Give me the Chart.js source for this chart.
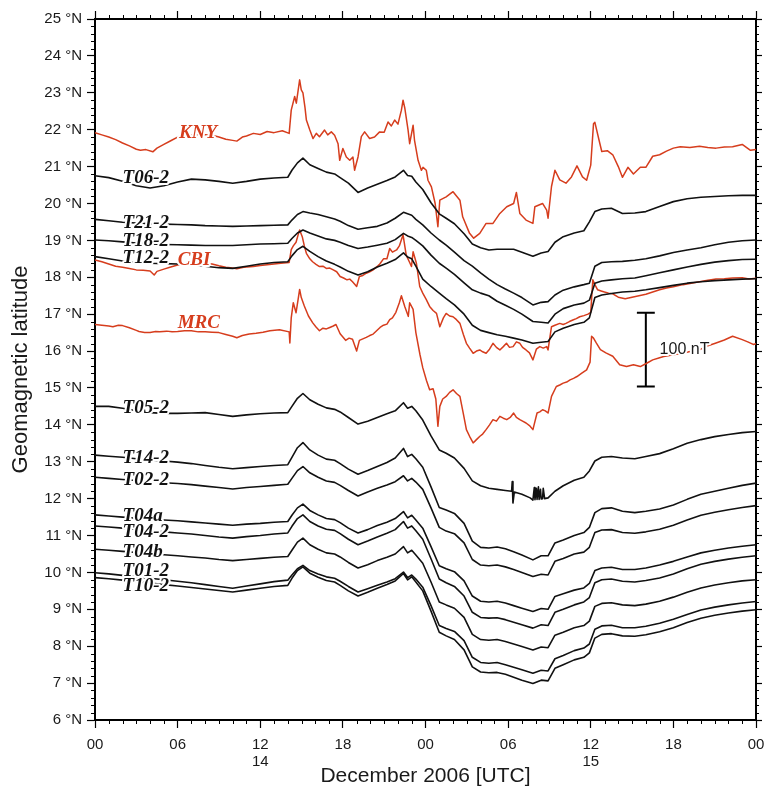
<!DOCTYPE html>
<html>
<head>
<meta charset="utf-8">
<title>Geomagnetic latitude stack, December 2006</title>
<script src="https://cdn.jsdelivr.net/npm/chart.js@4.4.1/dist/chart.umd.min.js"></script>
<style>
  html, body { margin: 0; padding: 0; background: #fff; }
  #wrap { width: 779px; height: 791px; }
</style>
</head>
<body>
<div id="wrap"><canvas id="geoChart" width="779" height="791"></canvas></div>
<script>
// hours counted from 00 UTC on 14 December 2006
const hours = [0, 1, 2, 3, 4, 5, 6, 7, 8, 9, 10, 11, 12, 13, 14,
  14.3, 14.7, 15.1, 15.6, 16.2, 16.8, 17.4, 17.8, 18.4, 19.1,
  19.8, 20.5, 21.2, 21.8, 22.4, 22.7, 23, 23.3, 23.8, 24.4,
  25, 25.5, 26.1, 26.8, 27.4, 28, 28.6, 29.2, 29.8, 30.4,
  31, 31.8, 32.4, 32.9, 33.4, 34, 34.8, 35.5, 35.9, 36.3,
  36.8, 37.5, 38.3, 39.2, 40,
  41, 42, 43, 44, 45, 46, 47, 48];

// stacked traces, plotted at the station latitude (deg N)
const t06 = [20.75, 20.7, 20.6, 20.48, 20.42, 20.48, 20.58, 20.66, 20.64, 20.6, 20.55, 20.6, 20.66, 20.69, 20.71,
  20.9, 21.1, 21.23, 21.05, 20.95, 20.85, 20.8, 20.7, 20.55, 20.3,
  20.42, 20.52, 20.62, 20.72, 20.9, 20.76, 20.74, 20.58, 20.38, 20.02,
  19.72, 19.6, 19.45, 19.18, 18.9, 18.8, 18.74, 18.76, 18.76, 18.76,
  18.68, 18.57, 18.66, 18.7, 18.95, 19.1, 19.2, 19.26, 19.5, 19.78,
  19.85, 19.87, 19.73, 19.74, 19.78,
  19.92, 20.05, 20.13, 20.17, 20.19, 20.21, 20.22, 20.22];

const t21 = [19.57, 19.53, 19.49, 19.47, 19.45, 19.44, 19.43, 19.42, 19.4, 19.39, 19.38, 19.39, 19.4, 19.41, 19.42,
  19.55, 19.7, 19.78, 19.74, 19.7, 19.64, 19.58, 19.52, 19.4, 19.3,
  19.34, 19.38, 19.47, 19.6, 19.76, 19.72, 19.68, 19.57, 19.42, 19.2,
  19.01, 18.87, 18.68, 18.45, 18.3, 18.12, 17.95, 17.8, 17.68, 17.57,
  17.45, 17.25, 17.32, 17.34, 17.52, 17.65, 17.74, 17.8, 17.84, 18.3,
  18.4, 18.42, 18.43, 18.46, 18.5,
  18.58, 18.67, 18.74, 18.8, 18.88, 18.95, 18.99, 19.01];

const t18 = [19.01, 18.99, 18.96, 18.93, 18.9, 18.89, 18.88, 18.87, 18.86, 18.86, 18.86, 18.88, 18.9, 18.91, 18.92,
  19.05, 19.2, 19.28, 19.2, 19.12, 19.04, 19.0, 18.95, 18.86, 18.78,
  18.82, 18.87, 18.92, 19.02, 19.19, 19.12, 19.08, 19.0, 18.85, 18.6,
  18.38, 18.25, 18.08, 17.85, 17.66, 17.57, 17.5, 17.35, 17.24, 17.13,
  17.0, 16.8, 16.78, 16.76, 17.0, 17.15, 17.25, 17.3, 17.38, 17.84,
  17.9, 17.93, 17.96, 17.98, 18.04,
  18.12, 18.2, 18.28, 18.35, 18.41, 18.45, 18.48, 18.49];

const t12 = [18.56, 18.5, 18.44, 18.4, 18.38, 18.37, 18.36, 18.34, 18.3, 18.26, 18.24, 18.3, 18.36, 18.4, 18.42,
  18.58, 18.75, 18.84, 18.7, 18.56, 18.44, 18.35, 18.28, 18.16, 18.06,
  18.15, 18.28, 18.38, 18.48, 18.66, 18.55, 18.5, 18.3, 17.95, 17.75,
  17.57, 17.42, 17.25, 17.0, 16.7, 16.56, 16.5, 16.44, 16.4, 16.35,
  16.3, 16.21, 16.24, 16.26, 16.52, 16.62, 16.72, 16.78, 16.9, 17.45,
  17.52, 17.56, 17.6, 17.62, 17.66,
  17.72, 17.78, 17.84, 17.88, 17.91, 17.93, 17.95, 17.96];

const t14 = [13.18, 13.15, 13.12, 13.08, 13.05, 13.02, 12.99, 12.95, 12.9, 12.85, 12.81, 12.84, 12.87, 12.9, 12.92,
  13.12, 13.38, 13.52, 13.32, 13.18, 13.07, 13.04, 12.95, 12.8, 12.66,
  12.76, 12.87, 12.98, 13.1, 13.36, 13.14, 13.2, 13.08, 12.85, 12.32,
  11.76, 11.69, 11.6, 11.33, 10.85, 10.68, 10.66, 10.69, 10.64, 10.56,
  10.47, 10.34, 10.45, 10.45, 10.8, 10.88, 11.0, 11.08, 11.22, 11.62,
  11.73, 11.75, 11.66, 11.62, 11.66,
  11.72, 11.83, 11.98, 12.12, 12.2, 12.28, 12.36, 12.42];

const t02 = [12.58, 12.55, 12.52, 12.49, 12.46, 12.43, 12.41, 12.38, 12.34, 12.3, 12.26, 12.3, 12.33, 12.36, 12.39,
  12.55, 12.76, 12.87, 12.7, 12.58, 12.48, 12.44, 12.36, 12.22, 12.07,
  12.18, 12.28, 12.37, 12.46, 12.62, 12.48, 12.55, 12.45, 12.25, 11.75,
  11.22, 11.12, 11.05, 10.8, 10.35, 10.2, 10.18, 10.2, 10.15, 10.08,
  10.0, 9.89, 9.95, 9.93, 10.3, 10.38, 10.5, 10.55, 10.68, 11.08,
  11.15, 11.16, 11.08, 11.06, 11.1,
  11.17, 11.28, 11.42, 11.55, 11.63, 11.7, 11.76, 11.81];

const t04a = [11.56, 11.53, 11.5, 11.47, 11.44, 11.42, 11.4, 11.37, 11.34, 11.31, 11.28, 11.31, 11.33, 11.36, 11.38,
  11.55, 11.75, 11.85, 11.68, 11.56, 11.46, 11.43, 11.35, 11.2, 11.07,
  11.16, 11.27, 11.36, 11.46, 11.65, 11.48, 11.55, 11.42, 11.2, 10.7,
  10.18, 10.1, 10.02, 9.77, 9.36, 9.22, 9.2, 9.22, 9.17, 9.1,
  9.03, 8.94, 9.02, 9.0, 9.35, 9.42, 9.52, 9.58, 9.7, 10.05,
  10.12, 10.14, 10.08, 10.08, 10.12,
  10.2, 10.3, 10.42, 10.53, 10.6, 10.66, 10.71, 10.75];

const t04 = [11.26, 11.23, 11.2, 11.17, 11.13, 11.1, 11.07, 11.04, 11.0, 10.96, 10.93, 10.97, 11.0, 11.04, 11.07,
  11.25, 11.46, 11.56, 11.38, 11.26, 11.17, 11.14, 11.05, 10.9, 10.75,
  10.85, 10.96, 11.06, 11.16, 11.38, 11.2, 11.26, 11.13, 10.9, 10.37,
  9.82, 9.72, 9.62, 9.36, 8.92, 8.78, 8.76, 8.77, 8.72, 8.65,
  8.58, 8.49, 8.58, 8.56, 8.92, 9.0, 9.12, 9.2, 9.32, 9.72,
  9.8, 9.82, 9.76, 9.74, 9.78,
  9.85, 9.96, 10.1, 10.22, 10.3, 10.36, 10.41, 10.45];

const t04b = [10.63, 10.6, 10.57, 10.54, 10.51, 10.48, 10.45, 10.42, 10.39, 10.35, 10.32, 10.35, 10.38, 10.41, 10.43,
  10.6, 10.82, 10.93, 10.75, 10.63, 10.53, 10.5, 10.42, 10.27, 10.12,
  10.21, 10.32, 10.41, 10.5, 10.7, 10.53, 10.6, 10.47, 10.25, 9.74,
  9.2, 9.12, 9.03, 8.78, 8.32, 8.18, 8.16, 8.18, 8.13, 8.06,
  7.99, 7.9, 7.98, 7.96, 8.3, 8.38, 8.5, 8.56, 8.68, 9.08,
  9.16, 9.18, 9.12, 9.1, 9.14,
  9.22, 9.33, 9.46, 9.58, 9.66, 9.72, 9.77, 9.8];

const t01 = [9.99, 9.96, 9.92, 9.88, 9.84, 9.8, 9.76, 9.72, 9.67, 9.62, 9.57, 9.63, 9.69, 9.75, 9.79,
  9.93, 10.1, 10.19, 10.05, 9.96, 9.88, 9.84, 9.76, 9.62, 9.47,
  9.56, 9.65, 9.74, 9.83, 10.01, 9.86, 9.93, 9.82, 9.6, 9.1,
  8.56, 8.48, 8.4, 8.15, 7.7, 7.56, 7.54, 7.56, 7.5, 7.43,
  7.36, 7.27, 7.35, 7.33, 7.66, 7.75, 7.88, 7.95, 8.06, 8.46,
  8.55, 8.57, 8.5, 8.5, 8.54,
  8.62, 8.73, 8.86, 8.98, 9.06, 9.12, 9.17, 9.21];

const t10 = [9.86, 9.83, 9.79, 9.75, 9.71, 9.67, 9.63, 9.59, 9.55, 9.51, 9.47, 9.52, 9.57, 9.62, 9.65,
  9.84, 10.05, 10.15, 9.98, 9.87, 9.78, 9.74, 9.65, 9.5, 9.36,
  9.46, 9.57, 9.67, 9.77, 9.97, 9.8, 9.88, 9.74, 9.5, 8.95,
  8.38, 8.28, 8.18, 7.9, 7.44, 7.3, 7.28, 7.29, 7.24, 7.16,
  7.08, 6.99, 7.08, 7.06, 7.4, 7.5, 7.63, 7.7, 7.82, 8.22,
  8.32, 8.34, 8.28, 8.27, 8.31,
  8.39, 8.5, 8.64, 8.76, 8.84, 8.9, 8.95, 8.99];

// T05-2 has its own time base for the short spikes near the minimum
const t05Hours = [0, 1, 2, 3, 4, 5, 6, 7, 8, 9, 10, 11, 12, 13, 14,
  14.3, 14.7, 15.1, 15.6, 16.2, 16.8, 17.4, 17.8, 18.4, 19.1,
  19.8, 20.5, 21.2, 21.8, 22.4, 22.7, 23, 23.3, 23.8, 24.4,
  25, 25.5, 26.1, 26.8, 27.4, 28, 28.6, 29.2, 29.8, 30.25, 30.3, 30.35, 30.45, 31, 31.6,
  31.8, 31.9, 31.95, 32.05, 32.1, 32.2, 32.25, 32.35, 32.4, 32.5, 32.55, 32.65, 32.9,
  33.4, 34, 34.8, 35.5, 35.9, 36.3, 36.8, 37.5, 38.3, 39.2, 40,
  41, 42, 43, 44, 45, 46, 47, 48];
const t05 = [14.5, 14.5, 14.45, 14.38, 14.33, 14.31, 14.31, 14.32, 14.33, 14.28, 14.23, 14.27, 14.3, 14.32, 14.33,
  14.5, 14.72, 14.85, 14.68, 14.56, 14.46, 14.42, 14.35, 14.2, 14.02,
  14.1, 14.2, 14.3, 14.38, 14.6, 14.45, 14.5, 14.38, 14.13, 13.7,
  13.32, 13.23, 13.1, 12.82, 12.48, 12.35, 12.28, 12.25, 12.22, 12.2, 12.46, 11.88, 12.18, 12.12, 12.02,
  11.96, 12.3, 11.97, 12.28, 11.98, 12.32, 11.98, 12.25, 11.99, 12.0, 12.28, 12.0, 12.02,
  12.2, 12.35, 12.5, 12.58, 12.75, 13.02, 13.12, 13.14, 13.1, 13.08, 13.14,
  13.22, 13.35, 13.5, 13.6, 13.68, 13.74, 13.79, 13.82];

// KNY, CBI and MRC (red) are sampled more densely
const knyHours = [0, 0.5, 1, 1.5, 2, 2.5, 3, 3.3, 3.7, 4.2, 4.5, 5, 5.5, 6, 6.5, 7, 7.5, 8, 8.5, 9, 9.5, 10, 10.3, 10.7,
  11, 11.5, 12, 12.5, 13, 13.6, 14.1, 14.25, 14.5, 14.62, 14.86, 14.98, 15.1, 15.25, 15.35, 15.6, 15.83, 16.07,
  16.3, 16.67, 16.9, 17.16, 17.4, 17.65, 17.77, 18, 18.25, 18.5, 18.73, 18.85, 19.1, 19.34, 19.58, 19.94, 20.3,
  20.67, 21, 21.28, 21.52, 21.76, 22, 22.25, 22.37, 22.5, 22.73, 22.85, 23.1, 23.2, 23.46, 23.7, 23.82, 24.06,
  24.18, 24.43, 24.7, 24.9, 25.04, 25.5, 26, 26.5, 26.7, 27.2, 27.5, 27.94, 28.4, 28.9, 29.4, 29.9, 30.4, 30.6,
  30.85, 31.3, 31.8, 31.94, 32.5, 32.8, 32.9, 33.15, 33.4, 33.75, 34.2, 34.6, 35, 35.4, 35.7, 36, 36.2, 36.3,
  36.6, 36.8, 37.2, 37.6, 38, 38.3, 38.7, 39.1, 39.6, 40, 40.5, 41, 41.5, 42, 42.5, 43.2, 43.9, 44.5, 45.1,
  45.7, 46.3, 47, 47.6, 48];
const kny = [21.92, 21.86, 21.8, 21.73, 21.64, 21.56, 21.47, 21.44, 21.46, 21.4, 21.5, 21.6, 21.7, 21.8, 21.86, 21.85, 21.87, 21.86, 21.85, 21.8, 21.74, 21.71, 21.69, 21.8,
  21.83, 21.9, 21.87, 21.95, 21.92, 21.97, 21.9, 22.53, 22.9, 22.72, 23.35, 23.08, 23.0, 22.6, 22.26, 21.99, 21.76, 21.9,
  21.81, 21.99, 21.86, 21.94, 21.85, 21.62, 21.17, 21.49, 21.26, 21.17, 21.26, 20.9, 21.26, 21.81, 21.94, 21.76, 21.8,
  21.94, 21.93, 22.21, 22.1, 22.26, 22.15, 22.53, 22.8, 22.58, 22.0, 21.62, 22.12, 21.72, 21.17, 20.9, 20.98, 20.9,
  20.63, 20.45, 20.0, 19.37, 20.09, 20.18, 20.32, 20.09, 19.64, 19.19, 19.06, 19.19, 19.46, 19.46, 19.73, 19.91, 20.0, 20.3,
  19.73, 19.55, 19.46, 19.91, 20.0, 19.82, 19.6, 20.46, 20.9, 20.64, 20.55, 20.72, 21.02, 20.72, 20.63, 21.04, 22.16, 22.2,
  21.72, 21.41, 21.43, 21.32, 21.0, 20.71, 20.98, 20.8, 20.98, 20.98, 21.28, 21.32, 21.42, 21.5, 21.54, 21.52, 21.55, 21.52, 21.5,
  21.53, 21.54, 21.6, 21.44, 21.46];

const cbiHours = [0, 0.5, 1, 1.5, 2, 2.5, 3, 3.5, 4, 4.3, 4.5, 5, 5.5, 6, 6.5, 7, 7.5, 8, 8.5, 9, 9.5, 10, 10.3, 10.8,
  11.5, 12, 12.5, 13, 13.5, 14.1, 14.25, 14.4, 14.6, 14.75, 14.86, 15.05, 15.2, 15.35, 15.6, 15.8, 16.05, 16.3,
  16.55, 16.8, 17.05, 17.3, 17.55, 17.8, 18.05, 18.3, 18.5, 18.7, 19, 19.2, 19.45, 19.7, 19.95, 20.2, 20.45,
  20.68, 20.95, 21.2, 21.4, 21.6, 21.9, 22.1, 22.37, 22.6, 22.85, 22.98, 23.1, 23.34, 23.58, 23.8, 24.05, 24.3,
  24.55, 24.8, 25.04, 25.3, 25.5, 25.75, 26, 26.25, 26.5, 26.75, 26.97, 27.2, 27.46, 27.7, 27.94, 28.15, 28.4,
  28.65, 28.9, 29.15, 29.4, 29.65, 29.88, 30.1, 30.36, 30.6, 30.85, 31.05, 31.3, 31.55, 31.8, 32.05, 32.3, 32.55,
  32.8, 32.9, 33.15, 33.4, 33.75, 34, 34.2, 34.45, 34.7, 34.95, 35.2, 35.5, 35.8, 36, 36.15, 36.3, 36.5, 36.75,
  37, 37.3, 37.6, 38, 38.5, 39, 39.5, 40, 40.5, 41, 41.5, 42, 42.7, 43.3, 43.9, 44.5, 45.1, 45.7, 46.3, 47, 47.5, 48];
const cbi = [18.47, 18.42, 18.36, 18.3, 18.27, 18.24, 18.2, 18.19, 18.17, 18.06, 18.16, 18.22, 18.28, 18.33, 18.35, 18.36, 18.37, 18.37, 18.36, 18.31, 18.27, 18.25, 18.23, 18.27,
  18.29, 18.32, 18.34, 18.36, 18.38, 18.4, 18.75, 18.85, 18.95, 19.15, 19.28, 19.1, 18.85, 18.65, 18.5, 18.42, 18.35, 18.29,
  18.3, 18.24, 18.25, 18.2, 18.15, 18.02, 17.98, 17.93, 17.95, 17.88, 17.75, 18.02, 18.05, 18.11, 18.15, 18.2, 18.28,
  18.36, 18.5, 18.5, 18.78, 18.68, 18.74, 18.85, 19.15, 18.6, 18.4, 18.29, 18.69, 18.38, 17.75, 17.57, 17.4, 17.21,
  17.1, 17.02, 16.66, 16.9, 17.02, 16.95, 16.93, 16.85, 16.75, 16.45, 16.21, 16.08, 15.94, 16.0, 16.03, 15.98, 15.94,
  16.05, 16.21, 16.1, 16.03, 16.12, 16.21, 16.1, 16.12, 16.25, 16.21, 16.1, 16.03, 15.95, 15.76, 16.05, 16.12, 16.08,
  16.12, 16.03, 16.66, 16.7, 16.75, 16.72, 16.75, 16.8, 16.84, 16.88, 16.93, 16.96, 17.0, 17.05, 17.93, 17.8, 17.66, 17.63,
  17.6, 17.57, 17.55, 17.46, 17.42, 17.46, 17.5, 17.54, 17.6, 17.66, 17.71, 17.74, 17.8, 17.84, 17.88, 17.92, 17.95, 17.96, 17.98, 17.99, 17.95, 17.97];

const mrcHours = [0, 0.5, 1, 1.3, 1.7, 2, 2.5, 3, 3.2, 3.6, 4, 4.4, 4.7, 5.2, 5.6, 6, 6.5, 7, 7.5, 8, 8.5, 9, 9.5, 10,
  10.3, 10.7, 11.2, 11.7, 12.2, 12.7, 13.4, 14.1, 14.15, 14.25, 14.4, 14.6, 14.75, 14.86, 14.98, 15.2, 15.5, 15.8,
  16.05, 16.3, 16.55, 16.8, 17.05, 17.3, 17.5, 17.8, 18, 18.2, 18.45, 18.7, 19, 19.2, 19.45, 19.7, 19.95, 20.2,
  20.45, 20.7, 20.95, 21.2, 21.4, 21.6, 21.85, 22.1, 22.25, 22.5, 22.75, 22.85, 23.1, 23.3, 23.6, 23.8, 24.07,
  24.3, 24.55, 24.75, 24.9, 25.04, 25.25, 25.5, 25.75, 26, 26.25, 26.5, 26.75, 26.97, 27.2, 27.46, 27.7, 27.95,
  28.15, 28.4, 28.65, 28.9, 29.15, 29.4, 29.65, 29.9, 30.15, 30.4, 30.6, 30.85, 31.05, 31.3, 31.55, 31.8, 32.1,
  32.3, 32.5, 32.7, 32.9, 33.15, 33.5, 33.75, 34, 34.25, 34.5, 34.75, 35, 35.35, 35.7, 35.95, 36.06, 36.2, 36.4,
  36.7, 37.1, 37.6, 38.1, 38.6, 39.1, 39.6, 40.06, 40.5, 41, 41.3, 42, 42.7, 43.4, 44, 44.4, 45.1, 45.7, 46.3,
  47, 47.4, 47.8, 48];
const mrc = [16.72, 16.7, 16.68, 16.66, 16.7, 16.69, 16.63, 16.56, 16.53, 16.5, 16.5, 16.53, 16.52, 16.54, 16.52, 16.53, 16.55, 16.55, 16.52, 16.52, 16.51, 16.5, 16.45, 16.4,
  16.36, 16.42, 16.46, 16.48, 16.51, 16.55, 16.58, 16.52, 16.22, 16.9, 17.31, 17.04, 17.4, 17.67, 17.45, 17.22, 16.95, 16.77,
  16.65, 16.55, 16.62, 16.6, 16.64, 16.68, 16.72, 16.47, 16.38, 16.29, 16.35, 16.32, 16.0, 16.29, 16.33, 16.37, 16.42, 16.46,
  16.55, 16.64, 16.7, 16.73, 16.85, 16.9, 17.05, 17.31, 17.5, 17.2, 16.94, 17.31, 17.13, 16.5, 15.9, 15.55, 15.2,
  14.95, 14.98, 14.7, 13.96, 14.5, 14.7, 14.77, 14.88, 14.95, 14.85, 14.77, 14.3, 13.87, 13.69, 13.51, 13.6, 13.69,
  13.75, 13.87, 14.0, 14.14, 14.1, 14.23, 14.18, 14.14, 14.2, 14.32, 14.2, 14.14, 14.1, 14.05, 13.98, 13.87, 14.32,
  14.35, 14.41, 14.38, 14.32, 14.77, 15.04, 15.08, 15.13, 15.16, 15.22, 15.26, 15.31, 15.4, 15.49, 15.7, 16.4, 16.35, 16.22,
  16.04, 15.95, 15.86, 15.63, 15.58, 15.63, 15.58, 15.67, 15.76, 15.82, 15.85, 15.9, 15.95, 16.0, 16.05, 16.13, 16.22, 16.3, 16.4,
  16.31, 16.25, 16.18, 16.2];

// 100 nT scale bar (100 nT spans two degrees of the stack)
const barHour = 40.0;
const barTop = 17.04;
const barBottom = 15.04;
const barCap = 0.65;

// x tick labels: hour of day, day of month under the 12 UTC ticks
const xTickHours = [0, 6, 12, 18, 24, 30, 36, 42, 48];
const xTickText = ['00', '06', ['12', '14'], '18', '00', '06', ['12', '15'], '18', '00'];

const RED = '#d63d1d';
const INK = '#111';
const SANS = '"Liberation Sans", Arial, sans-serif';

// name, hour of left edge, latitude of text baseline, colour
const stationLabels = [
  ['KNY', 6.1, 21.78, RED],
  ['T06-2', 2.0, 20.56, INK],
  ['T21-2', 2.0, 19.34, INK],
  ['T18-2', 2.0, 18.84, INK],
  ['T12-2', 2.0, 18.38, INK],
  ['CBI', 6.0, 18.33, RED],
  ['MRC', 6.0, 16.63, RED],
  ['T05-2', 2.0, 14.32, INK],
  ['T14-2', 2.0, 12.97, INK],
  ['T02-2', 2.0, 12.37, INK],
  ['T04a', 2.0, 11.4, INK],
  ['T04-2', 2.0, 10.97, INK],
  ['T04b', 2.0, 10.43, INK],
  ['T01-2', 2.0, 9.9, INK],
  ['T10-2', 2.0, 9.49, INK]
];

function pts(hs, vs) {
  return hs.map((h, i) => ({ x: h, y: vs[i] }));
}

function trace(label, hs, vs, color, width) {
  return {
    label: label,
    data: pts(hs, vs),
    borderColor: color,
    borderWidth: width,
    pointRadius: 0,
    tension: 0,
    borderJoinStyle: 'round',
    fill: false
  };
}

const datasets = [
  trace('T06-2', hours, t06, INK, 1.6),
  trace('T21-2', hours, t21, INK, 1.6),
  trace('T18-2', hours, t18, INK, 1.6),
  trace('T12-2', hours, t12, INK, 1.6),
  trace('T05-2', t05Hours, t05, INK, 1.6),
  trace('T14-2', hours, t14, INK, 1.6),
  trace('T02-2', hours, t02, INK, 1.6),
  trace('T04a', hours, t04a, INK, 1.6),
  trace('T04-2', hours, t04, INK, 1.6),
  trace('T04b', hours, t04b, INK, 1.6),
  trace('T01-2', hours, t01, INK, 1.6),
  trace('T10-2', hours, t10, INK, 1.6),
  trace('KNY', knyHours, kny, RED, 1.5),
  trace('CBI', cbiHours, cbi, RED, 1.5),
  trace('MRC', mrcHours, mrc, RED, 1.5),
  {
    label: 'scale',
    data: [
      { x: barHour - barCap, y: barTop }, { x: barHour + barCap, y: barTop },
      { x: barHour, y: barTop }, { x: barHour, y: barBottom },
      { x: barHour - barCap, y: barBottom }, { x: barHour + barCap, y: barBottom }
    ],
    borderColor: '#000',
    borderWidth: 2,
    pointRadius: 0,
    tension: 0,
    fill: false
  }
];

// small ticks: every 0.2 deg and every hour, on all four sides
const minorTicks = {
  id: 'minorTicks',
  afterDraw(chart) {
    const { ctx, chartArea: a } = chart;
    const x = chart.scales.x, y = chart.scales.y;
    ctx.save();
    ctx.strokeStyle = '#000';
    ctx.lineWidth = 1;
    ctx.beginPath();
    for (let i = 30; i <= 125; i++) {
      if (i % 5 === 0) continue;
      const py = Math.round(y.getPixelForValue(i / 5)) + 0.5;
      ctx.moveTo(a.left - 4, py); ctx.lineTo(a.left, py);
      ctx.moveTo(a.right, py); ctx.lineTo(a.right + 3, py);
    }
    for (let h = 0; h <= 48; h++) {
      if (h % 6 === 0) continue;
      const px = Math.round(x.getPixelForValue(h)) + 0.5;
      ctx.moveTo(px, a.bottom); ctx.lineTo(px, a.bottom + 4);
      ctx.moveTo(px, a.top - 4); ctx.lineTo(px, a.top);
    }
    ctx.stroke();
    ctx.restore();
  }
};

// station names on top of their traces, with a white knock-out
const traceLabels = {
  id: 'traceLabels',
  afterDatasetsDraw(chart) {
    const { ctx } = chart;
    const x = chart.scales.x, y = chart.scales.y;
    ctx.save();
    ctx.lineJoin = 'round';
    ctx.textAlign = 'left';
    ctx.textBaseline = 'alphabetic';
    ctx.font = 'italic bold 19px "Liberation Serif", "Times New Roman", serif';
    stationLabels.forEach(([name, h, lat, color]) => {
      const px = x.getPixelForValue(h);
      const py = y.getPixelForValue(lat);
      ctx.lineWidth = 4;
      ctx.strokeStyle = '#fff';
      ctx.strokeText(name, px, py);
      ctx.fillStyle = color;
      ctx.fillText(name, px, py);
    });
    // scale bar caption
    ctx.font = '16px ' + SANS;
    ctx.textBaseline = 'middle';
    const bx = x.getPixelForValue(barHour + 1.0);
    const by = y.getPixelForValue((barTop + barBottom) / 2);
    ctx.lineWidth = 4;
    ctx.strokeStyle = '#fff';
    ctx.strokeText('100 nT', bx, by);
    ctx.fillStyle = '#1a1a1a';
    ctx.fillText('100 nT', bx, by);
    ctx.restore();
  }
};

new Chart(document.getElementById('geoChart'), {
  type: 'line',
  data: { datasets: datasets },
  options: {
    responsive: false,
    animation: false,
    events: [],
    layout: { padding: { top: 19, right: 23, left: 0, bottom: 0 } },
    plugins: { legend: { display: false }, tooltip: { enabled: false } },
    scales: {
      x: {
        type: 'linear',
        position: 'bottom',
        min: 0,
        max: 48,
        afterFit: s => { s.height = 71; },
        afterBuildTicks: s => { s.ticks = xTickHours.map(v => ({ value: v })); },
        ticks: {
          autoSkip: false,
          maxRotation: 0,
          padding: 9,
          color: '#1a1a1a',
          font: { family: SANS, size: 15, lineHeight: 1.1 },
          callback: v => xTickText[xTickHours.indexOf(v)]
        },
        grid: { drawOnChartArea: false, tickLength: 8, tickColor: '#000', tickWidth: 1.2 },
        border: { display: true, color: '#000', width: 2 },
        title: {
          display: true,
          text: 'December 2006 [UTC]',
          color: '#1a1a1a',
          font: { family: SANS, size: 21 },
          padding: { top: 0, bottom: 2 }
        }
      },
      x2: {
        type: 'linear',
        position: 'top',
        min: 0,
        max: 48,
        afterFit: s => { s.height = 0; },
        afterBuildTicks: s => { s.ticks = xTickHours.map(v => ({ value: v })); },
        ticks: { display: false },
        grid: { drawOnChartArea: false, tickLength: 8, tickColor: '#000', tickWidth: 1.2 },
        border: { display: true, color: '#000', width: 2 }
      },
      y: {
        type: 'linear',
        position: 'left',
        min: 6,
        max: 25,
        afterFit: s => { s.width = 95; },
        ticks: {
          stepSize: 1,
          padding: 5,
          color: '#1a1a1a',
          font: { family: SANS, size: 15 },
          callback: v => v + ' °N'
        },
        grid: { drawOnChartArea: false, tickLength: 8, tickColor: '#000', tickWidth: 1.2 },
        border: { display: true, color: '#000', width: 2 },
        title: {
          display: true,
          text: 'Geomagnetic latitude',
          color: '#1a1a1a',
          font: { family: SANS, size: 22 },
          padding: { top: 8, bottom: 0 }
        }
      },
      y2: {
        type: 'linear',
        position: 'right',
        min: 6,
        max: 25,
        afterFit: s => { s.width = 0; },
        ticks: { display: false, stepSize: 1 },
        grid: { drawOnChartArea: false, tickLength: 6, tickColor: '#000', tickWidth: 1.2 },
        border: { display: true, color: '#000', width: 2 }
      }
    }
  },
  plugins: [minorTicks, traceLabels]
});
</script>
</body>
</html>
